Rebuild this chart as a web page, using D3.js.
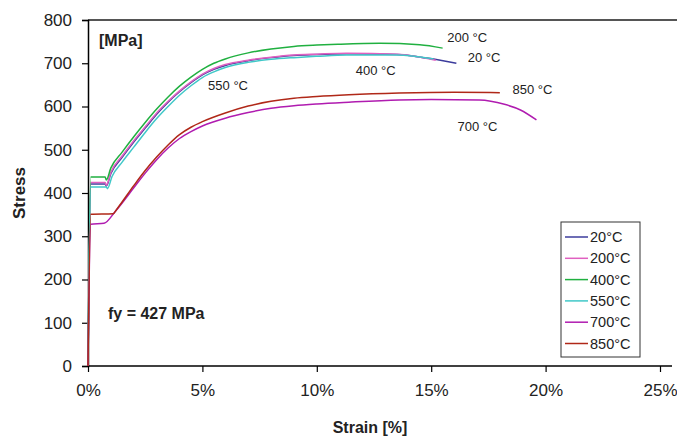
<!DOCTYPE html>
<html>
<head>
<meta charset="utf-8">
<script src="https://cdn.jsdelivr.net/npm/d3@7"></script>
<style>
  body { margin: 0; background: #fff; }
  text { font-family: "Liberation Sans", Arial, sans-serif; fill: #222; }
</style>
</head>
<body>
<div class="chart"></div>
<script>
//Width and height of the svg
var widthSVG = 677;
var heightSVG = 441;
var padLeft = 88, padTop = 20, padBottom = 366;

//series names and colours (legend order)
var nomes = ['20°C', '200°C', '400°C', '550°C', '700°C', '850°C'];
var cor = ['#3c3c9c', '#e060c0', '#20b040', '#40c8c8', '#b01cb0', '#b02818'];

//[strain %, stress MPa]
var curve20 = [[0,0],[0.12,421],[0.75,421],[0.8,416],[1.0,445],[1.5,483],[2,518],[2.5,550],[3,582],[3.5,610],[4,634],[4.5,655],[5,673],[5.5,686],[6,695],[7,706],[8,713],[9,718],[10,720],[11.3,722],[13.5,720],[14.8,712],[16.1,700]];
var curve200 = [[0,0],[0.12,424],[0.75,424],[0.8,418],[1.0,448],[1.5,486],[2,521],[2.5,553],[3,585],[3.5,612],[4,636],[4.5,657],[5,675],[5.5,688],[6,697],[7,707],[8,714],[9,719],[10,721],[11.3,723],[13.5,721],[15.2,707]];
var curve400 = [[0,0],[0.12,437],[0.75,437],[0.8,430],[1.0,458],[1.5,495],[2,530],[2.5,563],[3,594],[3.5,622],[4,647],[4.5,668],[5,686],[5.5,700],[6,710],[7,724],[8,733],[9,739],[10,742],[11,744],[12.75,746],[14.5,743],[15.5,735]];
var curve550 = [[0,0],[0.12,414],[0.8,414],[0.85,410],[1.05,438],[1.5,472],[2,506],[2.5,540],[3,572],[3.5,600],[4,626],[4.5,648],[5,667],[5.5,680],[6,690],[7,702],[8,709],[9,713],[10,716],[11.3,719],[13.5,719],[15.1,710]];
var curve700 = [[0,0],[0.12,328],[0.7,330],[1.2,358],[2,412],[2.5,446],[3,477],[3.5,504],[4,526],[4.5,542],[5,555],[6,573],[7,586],[8,596],[9,602],[10,606],[11.4,610],[13.6,615],[15,616],[17.1,615],[18.2,605],[18.9,592],[19.6,569]];
var curve850 = [[0,0],[0.12,351],[1.1,352],[1.25,362],[2,417],[2.5,452],[3,483],[3.5,511],[4,535],[4.5,552],[5,565],[6,585],[7,601],[8,612],[9,619],[10,623],[11.4,627],[13.6,631],[16,633],[18,632]];
var curves = [curve20, curve200, curve400, curve550, curve700, curve850];

//tick values
var xTicks = [0, 5, 10, 15, 20, 25];
var yTicks = [0, 100, 200, 300, 400, 500, 600, 700, 800];

//labels written next to the curves [text, strain, stress]
var rotulos = [['200 °C', 15.7, 750], ['20 °C', 16.6, 703], ['400 °C', 11.7, 673], ['550 °C', 5.25, 638],
               ['850 °C', 18.55, 629], ['700 °C', 16.15, 543]];

//scales
var xScale = d3.scaleLinear().domain([0, 25]).range([padLeft, 660]);
var yScale = d3.scaleLinear().domain([0, 800]).range([padBottom, padTop]);

var svg = d3.select(".chart")
            .append("svg")
            .attr("width", widthSVG)
            .attr("height", heightSVG);

//top frame line
svg.append("line")
    .attr("x1", padLeft).attr("x2", widthSVG)
    .attr("y1", yScale(800)).attr("y2", yScale(800))
    .attr("stroke", "#555").attr("stroke-width", 2);

//y axis
var y_axis = d3.axisLeft(yScale).tickValues(yTicks).tickSize(6).tickPadding(10);
var gy = svg.append("g")
    .attr("transform", "translate(" + padLeft + ",0)")
    .call(y_axis);
gy.select(".domain").attr("stroke", "#000").attr("stroke-width", 1.5);
gy.selectAll(".tick line").attr("stroke", "#000").attr("stroke-width", 1.2);
gy.selectAll(".tick text").style("font-size", "17px").attr("fill", "#222");

//x axis
var x_axis = d3.axisBottom(xScale).tickValues(xTicks).tickSize(6).tickPadding(12)
    .tickFormat(function(d) { return d + "%"; });
var gx = svg.append("g")
    .attr("transform", "translate(0," + padBottom + ")")
    .call(x_axis);
gx.select(".domain").remove();
gx.selectAll(".tick line").attr("stroke", "#000").attr("stroke-width", 1.2);
gx.selectAll(".tick text").style("font-size", "17px").attr("fill", "#222");
gx.append("line")
    .attr("x1", padLeft).attr("x2", 672)
    .attr("stroke", "#000").attr("stroke-width", 1.5);

//axis titles
svg.append("text")
    .attr("text-anchor", "middle")
    .attr("transform", "translate(25,193) rotate(-90)")
    .style("font-size", "17px").style("font-weight", "bold")
    .text("Stress");

svg.append("text")
    .attr("text-anchor", "middle")
    .attr("x", 370).attr("y", 433)
    .style("font-size", "16px").style("font-weight", "bold")
    .text("Strain [%]");

//curves
var line = d3.line()
    .x(function(d) { return xScale(d[0]); })
    .y(function(d) { return yScale(d[1]); })
    .curve(d3.curveMonotoneX);

svg.selectAll(".curva")
    .data(curves)
    .enter()
    .append("path")
    .attr("class", "curva")
    .attr("d", line)
    .attr("fill", "none")
    .attr("stroke", function(d, i) { return cor[i]; })
    .attr("stroke-width", 1.5);

//curve labels
svg.selectAll(".rotulo")
    .data(rotulos)
    .enter()
    .append("text")
    .attr("class", "rotulo")
    .attr("x", function(d) { return xScale(d[1]); })
    .attr("y", function(d) { return yScale(d[2]); })
    .style("font-size", "13px")
    .attr("fill", "#333")
    .text(function(d) { return d[0]; });

//[MPa] and fy
svg.append("text")
    .attr("x", 99).attr("y", 46)
    .style("font-size", "16px").style("font-weight", "bold")
    .text("[MPa]");

svg.append("text")
    .attr("x", 108).attr("y", 319)
    .style("font-size", "16px").style("font-weight", "bold")
    .text("fy = 427 MPa");

//Legend
svg.append("rect")
    .attr("x", 561).attr("y", 222)
    .attr("width", 79).attr("height", 135)
    .attr("fill", "#fff")
    .attr("stroke", "#333").attr("stroke-width", 1);

var legenda = svg.append("g")
    .attr("transform", "translate(565,237)")
    .selectAll(".legendas").data(nomes);

var itens = legenda.enter()
    .append("g")
    .classed("legendas", true)
    .attr("transform", function(d, i) { return "translate(0," + (i * 21.3) + ")"; });

itens.append("line")
    .attr("x1", 0).attr("x2", 23)
    .attr("stroke", function(d, i) { return cor[i]; })
    .attr("stroke-width", 1.5);

itens.append("text")
    .attr("x", 25).attr("y", 5)
    .style("font-size", "14.5px")
    .text(function(d) { return d; });
</script>
</body>
</html>
